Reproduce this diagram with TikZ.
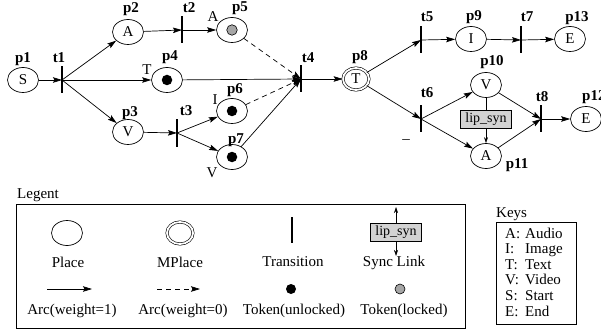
\documentclass[tikz,border=0pt]{standalone}
\usepackage{fontspec}
\setmainfont{Liberation Serif}
\usetikzlibrary{shapes.geometric,arrows.meta}
\begin{document}
\begin{tikzpicture}[x=1pt,y=-1pt,
  font=\fontsize{15}{18}\selectfont,
  place/.style={ellipse,draw,line width=0.7pt,minimum width=31pt,minimum height=25pt,inner sep=0pt},
  mplace/.style={ellipse,draw,line width=0.6pt,double,double distance=1.8pt,minimum width=26pt,minimum height=22pt,inner sep=0pt},
  trans/.style={rectangle,fill=black,minimum width=2.4pt,minimum height=27pt,inner sep=0pt},
  tok/.style={circle,fill=black,minimum size=10.5pt,inner sep=0pt},
  ltok/.style={circle,draw,line width=0.6pt,fill=gray!70,minimum size=10.5pt,inner sep=0pt},
  lbl/.style={font=\fontsize{15}{18}\selectfont\bfseries,inner sep=0pt},
  txt/.style={inner sep=0pt},
  arc/.style={line width=0.7pt,-{Stealth[length=9pt,width=5.5pt,inset=1.5pt]}},
  zarc/.style={arc,dash pattern=on 5pt off 4pt},
  sync/.style={rectangle,draw,line width=0.6pt,fill=gray!35,minimum width=51pt,minimum height=18pt,inner sep=1pt,font=\fontsize{14}{16}\selectfont},
  frame/.style={draw,line width=0.7pt}
]
\useasboundingbox (0,0) rectangle (601,331);

% places
\node[place] (p1) at (23,80) {S};
\node[place] (p2) at (128,32) {A};
\node[place] (p3) at (128,132) {V};
\node[place] (p4) at (167,80) {};
\node[place] (p5) at (232,30) {};
\node[place] (p6) at (232,111) {};
\node[place] (p7) at (232,157) {};
\node[mplace] (p8) at (356,79) {T};
\node[place] (p9) at (471,39) {I};
\node[place] (p10) at (486,85) {V};
\node[place] (p11) at (486,156) {A};
\node[place] (p12) at (586,119) {E};
\node[place] (p13) at (570,39) {E};

% tokens
\node[tok] (k4) at (p4.center) {};
\node[ltok] (k5) at (p5.center) {};
\node[tok] (k6) at (p6.center) {};
\node[tok] (k7) at (p7.center) {};

% transitions
\node[trans] (t1) at (62,80) {};
\node[trans] (t2) at (182,30) {};
\node[trans] (t3) at (177,133) {};
\node[trans] (t4) at (301,79) {};
\node[trans] (t5) at (421,40) {};
\node[trans] (t6) at (421,119) {};
\node[trans] (t7) at (521,40) {};
\node[trans] (t8) at (541,119) {};

% sync box
\node[sync] (ls) at (486,119) {lip\_syn};

% labels
\node[lbl] (lp1) at (23,59) {p1};
\node[lbl] (lt1) at (59,58) {t1};
\node[lbl] (lp2) at (131,9) {p2};
\node[lbl] (lt2) at (189,8) {t2};
\node[lbl] (lp5) at (240,8) {p5};
\node[txt] (la5) at (213,17) {A};
\node[lbl] (lp4) at (170,57) {p4};
\node[txt] (la4) at (147,70) {T};
\node[lbl] (lp6) at (235,90) {p6};
\node[txt] (la6) at (215,100) {I};
\node[lbl] (lp3) at (130,113) {p3};
\node[lbl] (lt3) at (186,111) {t3};
\node[lbl] (lp7) at (236,140) {p7};
\node[txt] (la7) at (212,173) {V};
\node[lbl] (lt4) at (308,58) {t4};
\node[lbl] (lp8) at (360,57) {p8};
\node[lbl] (lt5) at (427,17) {t5};
\node[lbl] (lp9) at (474,17) {p9};
\node[lbl] (lt7) at (527,17) {t7};
\node[lbl] (lp13) at (577,18) {p13};
\node[lbl] (lp10) at (492,62) {p10};
\node[lbl] (lt6) at (427,93) {t6};
\node[lbl] (lt8) at (542,97) {t8};
\node[lbl,anchor=west] (lp12) at (582,97) {p12};
\node[lbl] (lp11) at (517,165) {p11};
\node[txt] (ldash) at (406,142) {--};

% arcs
\draw[arc] (p1) -- (t1.center);
\draw[arc] (t1.center) -- (p2);
\draw[arc] (t1.center) -- (p4);
\draw[arc] (t1.center) -- (p3);
\draw[arc] (p2) -- (t2.center);
\draw[arc] (t2.center) -- (p5);
\draw[arc] (p3) -- (t3.center);
\draw[arc] (t3.center) -- (p6);
\draw[arc] (t3.center) -- (p7);
\draw[zarc] (p5) -- (t4.center);
\draw[arc] (p4) -- (t4.center);
\draw[zarc] (p6) -- (t4.center);
\draw[arc] (p7) -- (t4.center);
\draw[arc] (t4.center) -- (p8);
\draw[arc] (p8) -- (t5.center);
\draw[arc] (p8) -- (t6.center);
\draw[arc] (t5.center) -- (p9);
\draw[arc] (p9) -- (t7.center);
\draw[arc] (t7.center) -- (p13);
\draw[arc] (t6.center) -- (p10);
\draw[arc] (t6.center) -- (p11);
\draw[arc] (p10) -- (t8.center);
\draw[arc] (p11) -- (t8.center);
\draw[arc] (t8.center) -- (p12);
\draw[line width=0.6pt] (p10) -- (ls);
\draw[line width=0.6pt,-{Stealth[length=6pt,width=4pt]}] (ls) -- (p11);

% legend
\node[txt,anchor=west] (legt) at (17,195) {Legent};
\node[frame,minimum width=449pt,minimum height=124pt,inner sep=0pt] (legbox) at (240.5,266) {};
\node[place] (gp) at (67,233) {};
\node[mplace] (gm) at (180,233) {};
\node[trans,minimum height=26pt] (gt) at (292,230) {};
\node[sync] (gs) at (396,232) {lip\_syn};
\coordinate (gsu) at (396,207);
\coordinate (gsd) at (396,256);
\draw[line width=0.6pt,-{Stealth[length=6pt,width=4pt]}] (gs) -- (gsu);
\draw[line width=0.6pt,-{Stealth[length=6pt,width=4pt]}] (gs) -- (gsd);
\node[txt] (gpl) at (68,262) {Place};
\node[txt] (gml) at (180,262) {MPlace};
\node[txt] (gtl) at (293,262) {Transition};
\node[txt] (gsl) at (394,263) {Sync Link};
\coordinate (ga1) at (47,289);
\coordinate (ga2) at (92,289);
\draw[arc] (ga1) -- (ga2);
\coordinate (gd1) at (157,289);
\coordinate (gd2) at (200,289);
\draw[zarc] (gd1) -- (gd2);
\node[tok,minimum size=10pt] (gk) at (291,289) {};
\node[ltok,minimum size=10pt] (gl) at (400,289) {};
\node[txt] (gal) at (72,311) {Arc(weight=1)};
\node[txt] (gdl) at (183,311) {Arc(weight=0)};
\node[txt] (gkl) at (294,311) {Token(unlocked)};
\node[txt] (gll) at (404,311) {Token(locked)};

% keys
\node[txt,anchor=west] (keyt) at (496,214) {Keys};
\node[frame,minimum width=80pt,minimum height=102pt,inner sep=0pt] (keybox) at (536,273) {};
\node[txt,anchor=west] (keys) at (505,274) {\fontsize{15}{15.6}\selectfont
  \setlength{\tabcolsep}{0pt}\renewcommand{\arraystretch}{1}%
  \begin{tabular}{@{}p{20pt}l@{}}
  A: & Audio\\
  I: & Image\\
  T: & Text\\
  V: & Video\\
  S: & Start\\
  E: & End
  \end{tabular}};
\end{tikzpicture}
\end{document}
